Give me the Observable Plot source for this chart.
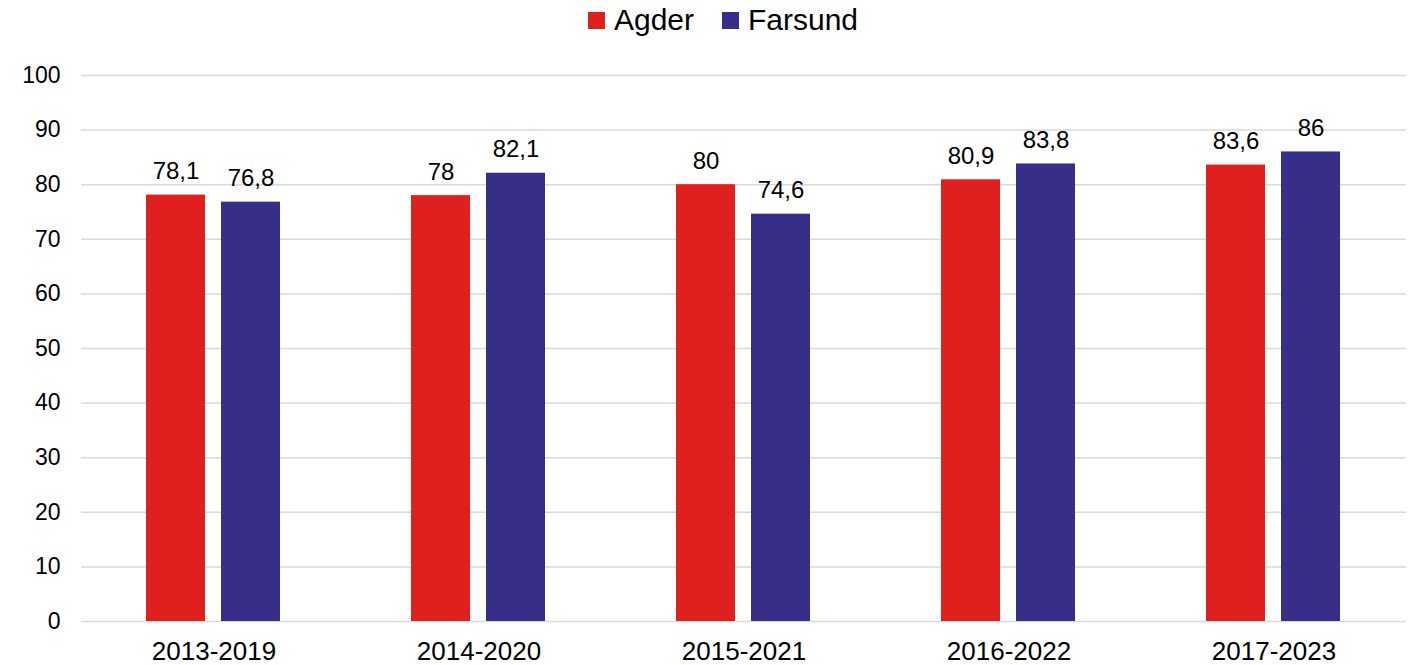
<!DOCTYPE html>
<html>
<head>
<meta charset="utf-8">
<script src="https://cdn.jsdelivr.net/npm/d3@7"></script>
<script src="https://cdn.jsdelivr.net/npm/@observablehq/plot@0.6"></script>
<style>
  html, body { margin: 0; padding: 0; background: #fff; }
  body { width: 1411px; height: 665px; overflow: hidden; font-family: "Liberation Sans", Arial, sans-serif; }
  #legend { height: 40px; display: flex; justify-content: center; align-items: center; padding-left: 35px; font-size: 30px; color: #000; }
  .item { display: flex; align-items: center; }
  .item + .item { margin-left: 28px; }
  .sw { width: 17px; height: 17px; margin-right: 9px; }
  svg { display: block; }
</style>
</head>
<body>
<div id="legend"></div>
<div id="chart"></div>
<script>
const periods = ["2013-2019", "2014-2020", "2015-2021", "2016-2022", "2017-2023"];
const seriesNames = ["Agder", "Farsund"];
const agder = [78.1, 78, 80, 80.9, 83.6];
const farsund = [76.8, 82.1, 74.6, 83.8, 86];
const colors = ["#E01F1F", "#372F87"];
const yTicks = [0, 10, 20, 30, 40, 50, 60, 70, 80, 90, 100];

const data = [];
periods.forEach((p, i) => {
  data.push({period: p, series: "Agder", value: agder[i]});
  data.push({period: p, series: "Farsund", value: farsund[i]});
});
const fmt = v => String(v).replace(".", ",");

const legend = document.getElementById("legend");
seriesNames.forEach((s, i) => {
  const it = document.createElement("div");
  it.className = "item";
  const sw = document.createElement("div");
  sw.className = "sw";
  sw.style.background = colors[i];
  const t = document.createElement("span");
  t.textContent = s;
  it.appendChild(sw); it.appendChild(t);
  legend.appendChild(it);
});

const chart = Plot.plot({
  width: 1411,
  height: 625,
  marginTop: 35,
  marginBottom: 44,
  marginLeft: 79,
  marginRight: 3,
  style: {fontFamily: "Liberation Sans, Arial, sans-serif", fontSize: "23px", color: "#000", background: "#fff", overflow: "visible"},
  fx: {domain: periods, padding: 0, label: null},
  x: {domain: seriesNames, paddingInner: 0.21, paddingOuter: 0.854, axis: null},
  y: {domain: [0, 100], label: null},
  color: {domain: seriesNames, range: colors},
  marks: [
    Plot.ruleY(yTicks, {stroke: "#d9d9d9", strokeWidth: 1.5}),
    Plot.barY(data, {fx: "period", x: "series", y: "value", fill: "series"}),
    Plot.text(data, {fx: "period", x: "series", y: "value", text: d => fmt(d.value), lineAnchor: "bottom", dy: -16, fontSize: 24, fill: "#000"}),
    Plot.axisY({ticks: yTicks, tickSize: 0, tickPadding: 21, label: null, fontSize: 23, anchor: "left"}),
    Plot.axisFx({anchor: "bottom", tickSize: 0, tickPadding: 20, label: null, fontSize: 26})
  ]
});
document.getElementById("chart").appendChild(chart);
</script>
</body>
</html>
